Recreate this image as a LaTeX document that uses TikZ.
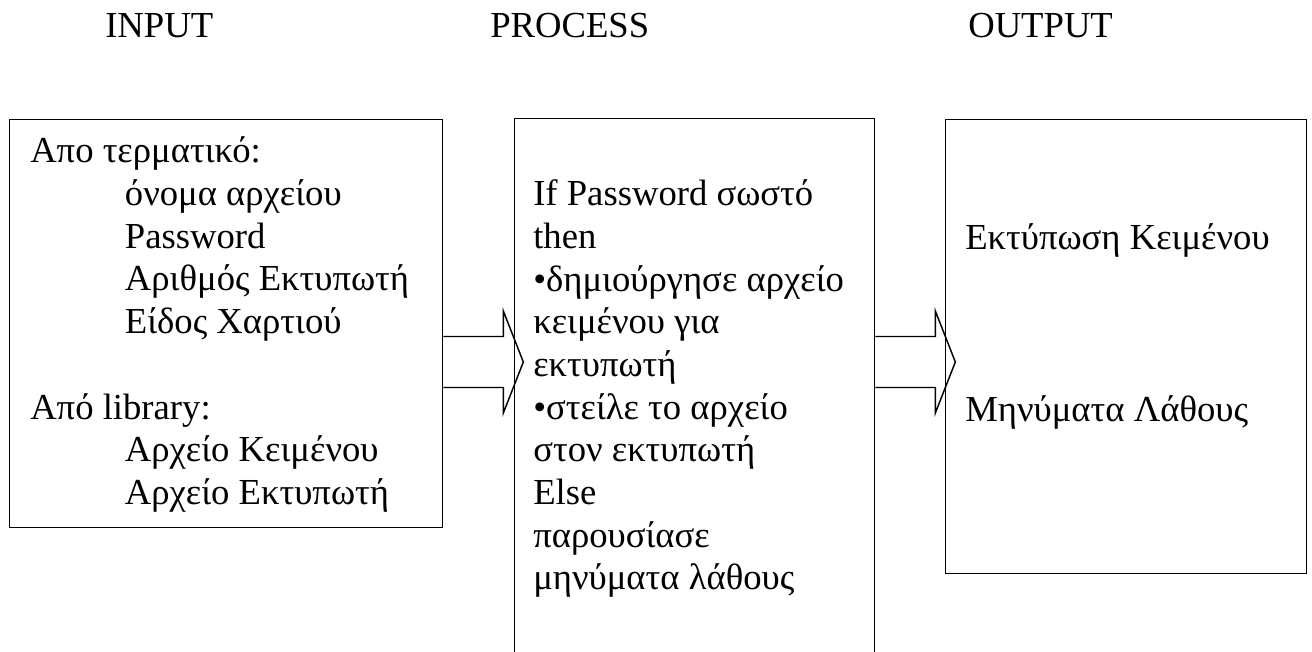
\documentclass[tikz,border=0pt]{standalone}
\usepackage{fontspec}
\setmainfont{Liberation Serif}
\usetikzlibrary{calc}
\newcommand\linesbox[2]{\parbox[t]{#1}{\raggedright #2}}
\begin{document}
\begin{tikzpicture}[x=0.75pt,y=-0.75pt,
  box/.style={draw, line width=1pt, rectangle, anchor=north west, inner sep=0pt},
  label/.style={anchor=base west, inner sep=0pt, font=\fontsize{27.5}{32}\selectfont},
  body/.style={anchor=base west, inner sep=0pt, font=\fontsize{27.5}{32}\selectfont},
  fatarrow/.style={draw, line width=1.1pt, line join=miter}]
\useasboundingbox (0,0) rectangle (1312,652);
\begin{scope}
\clip (0,0) rectangle (1312,652);

% column headings
\node[label] (hin)  at (105,38) {INPUT};
\node[label] (hpro) at (490,38) {PROCESS};
\node[label] (hout) at (968,38) {OUTPUT};

% the three boxes
\node[box, minimum width={433*0.75pt}, minimum height={408*0.75pt}] (inbox)  at (9,119)   {};
\node[box, minimum width={360*0.75pt}, minimum height={600*0.75pt}] (probox) at (514,118) {};
\node[box, minimum width={361*0.75pt}, minimum height={454*0.75pt}] (outbox) at (945,119) {};

% box contents, all on one line grid (pitch 32pt)
\node[body] (intext) at (30,163) {\linesbox{400pt}{%
Απο τερματικό:\\
\hspace*{71pt}όνομα αρχείου\\
\hspace*{71pt}Password\\
\hspace*{71pt}Αριθμός Εκτυπωτή\\
\hspace*{71pt}Είδος Χαρτιού\\
\mbox{}\\
Από library:\\
\hspace*{71pt}Αρχείο Κειμένου\\
\hspace*{71pt}Αρχείο Εκτυπωτή}};

\node[body] (protext) at (533,205.7) {\linesbox{300pt}{%
If Password σωστό\\
then\\
•δημιούργησε αρχείο\\
κειμένου για\\
εκτυπωτή\\
•στείλε το αρχείο\\
στον εκτυπωτή\\
Else\\
παρουσίασε\\
μηνύματα λάθους}};

\node[label] (print) at (965,249) {Εκτύπωση Κειμένου};
\node[label] (errs)  at (965,421) {Μηνύματα Λάθους};

% block arrows between the boxes
\coordinate (axis) at (0,362);
\coordinate (a1) at (inbox.east |- axis);
\coordinate (a2) at (probox.east |- axis);
\foreach \s in {a1,a2}{
  \draw[fatarrow] ($(\s)+(0,-25.5)$) -- ++(60,0) -- ++(0,-25.5)
    -- ($(\s)+(80,0)$) -- ($(\s)+(60,51)$) -- ++(0,-25.5) -- ($(\s)+(0,25.5)$);
}
\end{scope}
\end{tikzpicture}
\end{document}
